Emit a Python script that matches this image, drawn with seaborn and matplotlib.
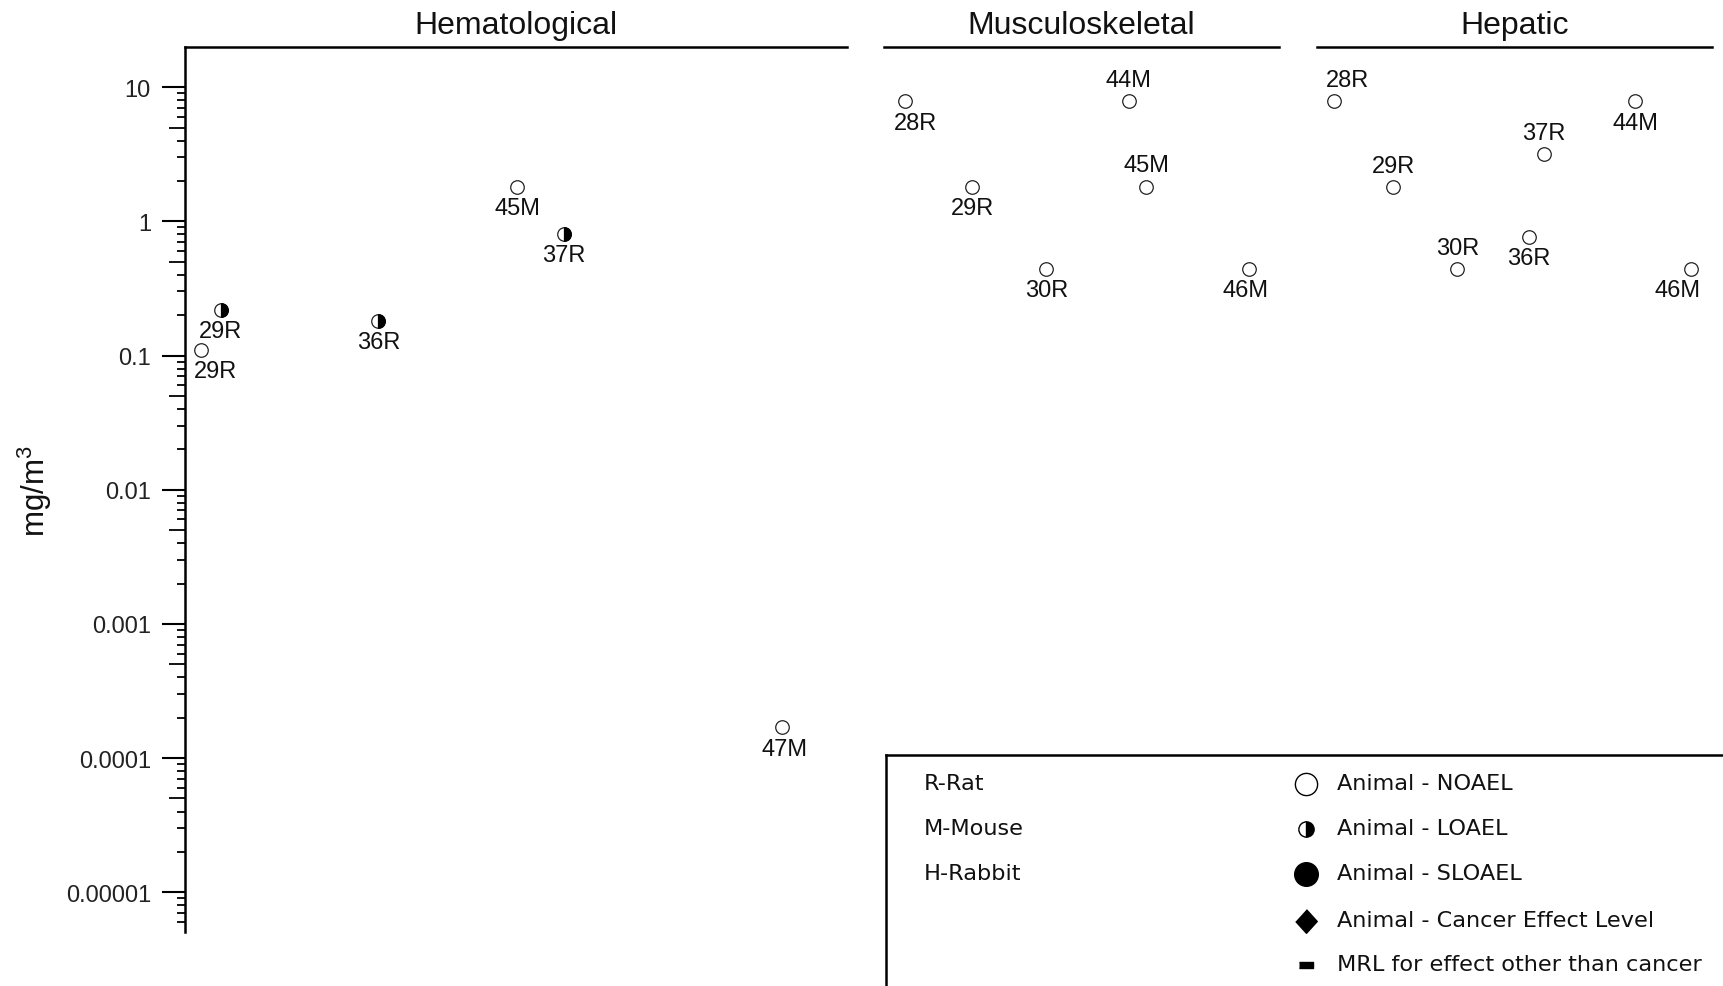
import numpy as np
import pandas as pd
import matplotlib
matplotlib.use("Agg")
import matplotlib.pyplot as plt
from matplotlib.markers import MarkerStyle
from matplotlib.ticker import FixedLocator, FixedFormatter, NullFormatter
import seaborn as sns

# ---------------- data ----------------
panels = ["Hematological", "Musculoskeletal", "Hepatic"]

hem_labels = ["29R", "29R", "36R", "45M", "37R", "47M"]
hem_values = [0.11, 0.22, 0.18, 1.8, 0.8, 0.00017]
hem_effects = ["NOAEL", "LOAEL", "LOAEL", "NOAEL", "LOAEL", "NOAEL"]
hem_order = [2.4, 5.4, 29.2, 50.2, 57.2, 90.2]

musc_labels = ["28R", "29R", "30R", "44M", "45M", "46M"]
musc_values = [7.9, 1.8, 0.44, 7.9, 1.8, 0.44]
musc_effects = ["NOAEL", "NOAEL", "NOAEL", "NOAEL", "NOAEL", "NOAEL"]
musc_order = [5.4, 22.4, 41.1, 61.9, 66.4, 92.5]

hep_labels = ["28R", "29R", "30R", "36R", "37R", "44M", "46M"]
hep_values = [7.9, 1.8, 0.44, 0.77, 3.15, 7.9, 0.44]
hep_effects = ["NOAEL", "NOAEL", "NOAEL", "NOAEL", "NOAEL", "NOAEL", "NOAEL"]
hep_order = [4.3, 19.3, 35.5, 53.6, 57.5, 80.6, 94.7]

ytick_values = [1e-5, 1e-4, 1e-3, 1e-2, 1e-1, 1, 10]
ytick_labels = ["0.00001", "0.0001", "0.001", "0.01", "0.1", "1", "10"]

species_legend = ["R-Rat", "M-Mouse", "H-Rabbit"]
effect_legend = ["Animal - NOAEL", "Animal - LOAEL", "Animal - SLOAEL",
                 "Animal - Cancer Effect Level", "MRL for effect other than cancer"]

# ---------------- layout (label offsets in px, +down) ----------------
hem_lab_off = [(15, 21), (0, 21), (0, 21), (0, 21), (0, 21), (2, 22)]
musc_lab_off = [(10, 22), (0, 21), (0, 21), (0, -21), (0, -22), (-4, 21)]
hep_lab_off = [(14, -21), (0, -21), (0, -21), (0, 21), (0, -21), (0, 22), (-14, 21)]

frames = {
    "Hematological": pd.DataFrame(dict(order=hem_order, value=hem_values, label=hem_labels, effect=hem_effects)),
    "Musculoskeletal": pd.DataFrame(dict(order=musc_order, value=musc_values, label=musc_labels, effect=musc_effects)),
    "Hepatic": pd.DataFrame(dict(order=hep_order, value=hep_values, label=hep_labels, effect=hep_effects)),
}
offsets = {"Hematological": hem_lab_off, "Musculoskeletal": musc_lab_off, "Hepatic": hep_lab_off}

sns.set_theme(style="white")
plt.rcParams["font.family"] = ["Liberation Sans", "DejaVu Sans"]
plt.rcParams["mathtext.fontset"] = "custom"
plt.rcParams["mathtext.rm"] = "Liberation Sans"
plt.rcParams["mathtext.default"] = "regular"

W, H = 1723, 987
fig = plt.figure(figsize=(W / 100, H / 100), dpi=100)
fig.patch.set_facecolor("white")


def px_axes(x0, y0, x1, y1):
    return fig.add_axes([x0 / W, 1 - y1 / H, (x1 - x0) / W, (y1 - y0) / H])


bounds = [(185, 48, 847, 933), (884, 48, 1279, 933), (1317, 48, 1712, 933)]
YMIN, YMAX = 5.06e-6, 19.9
SPINE_LW = 1.8

axes = []
for name, b in zip(panels, bounds):
    ax = px_axes(*b)
    ax.set_facecolor("none")
    ax.set_yscale("log")
    ax.set_xlim(0, 100)
    ax.set_ylim(YMIN, YMAX)
    d = frames[name]
    sns.scatterplot(data=d, x="order", y="value", ax=ax, marker="o", s=95,
                    color="white", edgecolor="#222222", linewidth=0.9,
                    legend=False, zorder=3)
    lo = d[d["effect"] == "LOAEL"]
    if len(lo):
        sns.scatterplot(data=lo, x="order", y="value", ax=ax,
                        marker=MarkerStyle("o", fillstyle="right"), s=95,
                        color="black", edgecolor="black", linewidth=0.9,
                        legend=False, zorder=4)
    for (x, v, lab), (dx, dy) in zip(d[["order", "value", "label"]].values, offsets[name]):
        ax.annotate(lab, (x, v), xytext=(dx * 0.72, -dy * 0.72), textcoords="offset points",
                    ha="center", va="center", fontsize=17, color="#111111")
    ax.set_xlabel("")
    ax.set_ylabel("")
    ax.set_xticks([])
    for s in ["right", "bottom", "left"]:
        ax.spines[s].set_visible(False)
    ax.spines["top"].set_visible(True)
    ax.spines["top"].set_linewidth(SPINE_LW)
    ax.spines["top"].set_color("black")
    ax.annotate(name, (0.5, 1.0), xycoords="axes fraction", xytext=(0, 16),
                textcoords="offset points", ha="center", va="center",
                fontsize=23, color="#111111")
    axes.append(ax)

ax0 = axes[0]
ax0.spines["left"].set_visible(True)
ax0.spines["left"].set_linewidth(SPINE_LW)
ax0.spines["left"].set_color("black")
ax0.yaxis.set_major_locator(FixedLocator(ytick_values))
ax0.yaxis.set_major_formatter(FixedFormatter(ytick_labels))
minor = [m * 10.0 ** e for e in range(-6, 2) for m in range(2, 10)
         if YMIN <= m * 10.0 ** e <= YMAX]
ax0.yaxis.set_minor_locator(FixedLocator(minor))
ax0.yaxis.set_minor_formatter(NullFormatter())
ax0.tick_params(axis="y", which="major", left=True, length=16.5, width=1.5,
                color="black", pad=8, labelsize=17, labelcolor="#222222")
ax0.tick_params(axis="y", which="minor", left=True, length=6, width=1.3, color="black")
for t, v in zip(ax0.yaxis.get_minor_ticks(len(minor)), minor):
    mant = v / 10.0 ** np.floor(np.log10(v) + 1e-9)
    if abs(mant - 5) < 1e-6:
        t.tick1line.set_markersize(11.5)
for ax in axes[1:]:
    ax.tick_params(axis="y", which="both", left=False, labelleft=False)
    ax.set_yticks([])
    ax.yaxis.set_minor_locator(FixedLocator([]))

fig.text(35 / W, 1 - 491 / H, "mg/m$^{3}$", rotation=90, ha="center", va="center",
         fontsize=22.5, color="#111111")

# ---------------- legend box ----------------
lg = fig.add_axes([886 / W, -0.1, 0.6, (H - 756) / H + 0.1])
lg.set_xlim(886, 886 + 0.6 * W)
lg.set_ylim(H + 0.1 * H, 756)
lg.set_xticks([])
lg.set_yticks([])
lg.set_facecolor("white")
for s in ["right", "bottom"]:
    lg.spines[s].set_visible(False)
for s in ["left", "top"]:
    lg.spines[s].set_linewidth(SPINE_LW)
    lg.spines[s].set_color("black")

left_rows = [783.5, 828.5, 873.5]
right_rows = [784, 828.5, 874, 921, 965]
for txt, y in zip(species_legend, left_rows):
    lg.text(924, y, txt, ha="left", va="center", fontsize=16.1,
            family=["DejaVu Sans"], color="#111111")
for txt, y in zip(effect_legend, right_rows):
    lg.text(1337, y, txt, ha="left", va="center", fontsize=16.1,
            family=["DejaVu Sans"], color="#111111")
mx = 1306
lg.plot([mx], [right_rows[0] + 1], marker="o", ms=16, mfc="white", mec="black", mew=1.0, ls="none")
lg.plot([mx], [right_rows[1] + 1], marker="o", fillstyle="right", ms=11, mfc="black",
        mfcalt="white", mec="black", mew=1.0, ls="none")
lg.plot([mx], [right_rows[2] + 1], marker="o", ms=17, mfc="black", mec="black", ls="none")
diamond = [(0, 1.1), (1.0, 0), (0, -1.1), (-1.0, 0)]
lg.plot([mx], [right_rows[3] + 1], marker=diamond, ms=17, mfc="black", mec="black", ls="none")
bar = [(-1, -0.45), (1, -0.45), (1, 0.45), (-1, 0.45)]
lg.plot([mx], [right_rows[4] + 1], marker=bar, ms=10, mfc="black", mec="black", ls="none")

fig.savefig("out.png", dpi=100, facecolor="white")
